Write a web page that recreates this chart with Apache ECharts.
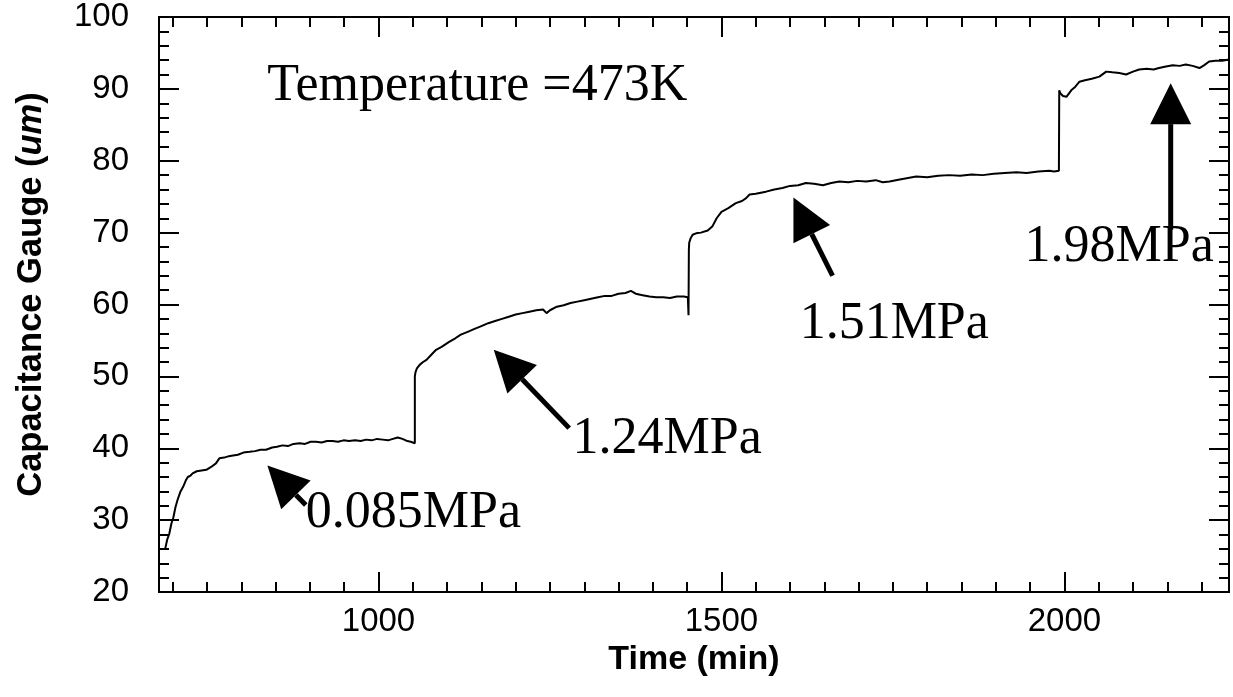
<!DOCTYPE html>
<html>
<head>
<meta charset="utf-8">
<script src="https://cdn.jsdelivr.net/npm/echarts@6/dist/echarts.min.js"></script>
<style>
  html, body { margin: 0; padding: 0; background: #fff; }
  #chart { width: 1233px; height: 697px; }
</style>
</head>
<body>
<div id="chart"></div>
<script>
// time (min)
var timeData = [
  689, 692, 695, 698, 701, 704, 707, 711, 715, 719, 722, 726, 729, 735, 742, 749, 756, 763, 768, 775,
  782, 788, 795, 803, 812, 820, 828, 836, 845, 852, 860, 868, 876, 885, 893, 901, 909, 917, 925, 933,
  941, 949, 957, 966, 974, 982, 990, 998, 1006, 1014, 1021, 1028, 1035, 1042, 1047, 1053, 1053,
  1054, 1056, 1060, 1065, 1070, 1077, 1084, 1092, 1103, 1112, 1120, 1130, 1140, 1150, 1160, 1170, 1180,
  1190, 1200, 1210, 1220, 1230, 1240, 1245, 1250, 1260, 1270, 1280, 1290, 1300, 1310, 1320, 1330, 1340,
  1350, 1360, 1368, 1375, 1385, 1395, 1405, 1415, 1425, 1435, 1445, 1451, 1452, 1452.5, 1453, 1455, 1458,
  1463, 1470, 1480, 1487, 1493, 1500, 1510, 1521, 1530, 1536, 1541, 1550, 1565, 1577, 1589, 1600, 1612,
  1623, 1635, 1648, 1660, 1672, 1685, 1698, 1711, 1725, 1735, 1745, 1760, 1772, 1784, 1800, 1816, 1832,
  1848, 1865, 1881, 1897, 1913, 1930, 1945, 1962, 1978, 1985, 1992, 1992.5,
  1994, 1998, 2003, 2010, 2016, 2022, 2030, 2040, 2051, 2061, 2070, 2080, 2090, 2100, 2109, 2120, 2130,
  2138, 2148, 2158, 2168, 2177, 2187, 2197, 2204, 2211, 2220, 2230, 2240
];
// capacitance gauge (um)
var gaugeData = [
  26.0, 27.3, 28.1, 29.5, 30.4, 31.8, 32.8, 33.9, 34.6, 35.5, 36.0, 36.2, 36.5, 36.8, 36.9, 37.0, 37.4, 37.9, 38.6, 38.7,
  38.9, 39.0, 39.1, 39.4, 39.5, 39.6, 39.8, 39.8, 40.1, 40.2, 40.4, 40.3, 40.6, 40.7, 40.6, 40.9, 40.9, 40.8, 41.0, 41.0,
  40.9, 41.1, 41.0, 41.1, 41.0, 41.2, 41.1, 41.3, 41.2, 41.1, 41.3, 41.5, 41.3, 41.0, 40.9, 40.7, 50.0,
  50.6, 51.1, 51.6, 52.0, 52.3, 53.0, 53.7, 54.1, 54.8, 55.3, 55.8, 56.2, 56.6, 57.0, 57.4, 57.7, 58.0,
  58.3, 58.6, 58.8, 59.0, 59.2, 59.3, 58.8, 59.2, 59.7, 59.9, 60.2, 60.4, 60.6, 60.8, 61.0, 61.2, 61.2,
  61.5, 61.6, 61.9, 61.5, 61.3, 61.1, 61.0, 61.0, 60.9, 61.1, 61.1, 61.0, 58.5, 67.6, 68.6, 69.2, 69.7,
  69.9, 70.0, 70.3, 70.9, 72.0, 72.9, 73.4, 74.1, 74.4, 74.8, 75.3, 75.4, 75.7, 76.0, 76.2, 76.5, 76.6,
  76.9, 76.8, 76.6, 76.9, 77.1, 77.0, 77.2, 77.1, 77.3, 77.0, 77.1, 77.4, 77.6, 77.8, 77.7, 77.9, 78.0,
  77.9, 78.1, 78.0, 78.2, 78.3, 78.4, 78.3, 78.5, 78.6, 78.5, 78.6, 89.8,
  89.4, 89.0, 88.9, 89.8, 90.3, 91.0, 91.2, 91.4, 91.7, 92.4, 92.3, 92.2, 92.0, 92.4, 92.7, 92.8, 92.7,
  92.9, 93.1, 93.3, 93.2, 93.4, 93.2, 92.9, 93.3, 93.8, 93.9, 93.9, 94.1
];

var timeMajorTicks = [1000, 1500, 2000];
var timeMinorTicks = [];
for (var t = 700; t <= 2200; t += 50) timeMinorTicks.push(t);

// arrows: tip time, tip value, tail time, tail value
var arrowData = [
  [838, 37.6, 894, 32.1],
  [1168, 53.7, 1278, 42.8],
  [1605, 74.9, 1662, 64.0],
  [2155, 90.8, 2155, 70.4]
];
// text notes: left time, middle value, text
var noteData = [
  [838, 90.3, 'Temperature =473K'],
  [894, 30.9, '0.085MPa'],
  [1283, 41.3, '1.24MPa'],
  [1614, 57.3, '1.51MPa'],
  [1942, 67.9, '1.98MPa']
];

var lineData = timeData.map(function (t, i) { return [t, gaugeData[i]]; });

var chart = echarts.init(document.getElementById('chart'));

var black = '#000';
function timeAxis(pos, ticks, len, withLabel) {
  return {
    type: 'value', position: pos, gridIndex: 0,
    min: 680, max: 2240,
    axisLine: { show: true, onZero: false, lineStyle: { color: black, width: 2 } },
    axisTick: { show: true, inside: true, length: len, customValues: ticks, lineStyle: { color: black, width: 2 } },
    axisLabel: withLabel ? {
      show: true, customValues: timeMajorTicks, color: black,
      fontFamily: 'Liberation Sans', fontSize: 33, margin: 13,
      formatter: function (v) { return String(v); }
    } : { show: false },
    splitLine: { show: false }
  };
}
function gaugeAxis(pos, withLabel) {
  return {
    type: 'value', position: pos, gridIndex: 0,
    min: 20, max: 100, interval: 10,
    axisLine: { show: true, onZero: false, lineStyle: { color: black, width: 2 } },
    axisTick: { show: true, inside: true, length: 20, lineStyle: { color: black, width: 2 } },
    minorTick: { show: true, splitNumber: 5, length: 10, lineStyle: { color: black, width: 2 } },
    axisLabel: withLabel ? {
      show: true, color: black, fontFamily: 'Liberation Sans', fontSize: 33, margin: 30
    } : { show: false },
    splitLine: { show: false }
  };
}

var xBottom = timeAxis('bottom', timeMajorTicks, 20, true);
xBottom.name = 'Time (min)';
xBottom.nameLocation = 'middle';
xBottom.nameGap = 47;
xBottom.nameTextStyle = { color: black, fontFamily: 'Liberation Sans', fontWeight: 'bold', fontSize: 34 };

var yLeft = gaugeAxis('left', true);
yLeft.name = 'Capacitance Gauge ({i|um})';
yLeft.nameLocation = 'middle';
yLeft.nameGap = 110;
yLeft.nameTextStyle = {
  color: black, fontFamily: 'Liberation Sans', fontWeight: 'bold', fontSize: 34.5,
  padding: [0, 0, 0, 20],
  rich: { i: { fontStyle: 'italic', fontWeight: 'bold', fontFamily: 'Liberation Sans', fontSize: 34.5, color: black } }
};

chart.setOption({
  animation: false,
  backgroundColor: '#fff',
  grid: { left: 159, right: 4, top: 17, bottom: 105, containLabel: false },
  xAxis: [
    xBottom,
    timeAxis('bottom', timeMinorTicks, 10, false),
    timeAxis('top', timeMajorTicks, 20, false),
    timeAxis('top', timeMinorTicks, 10, false)
  ],
  yAxis: [yLeft, gaugeAxis('right', false)],
  series: [
    {
      type: 'line', xAxisIndex: 0, yAxisIndex: 0,
      data: lineData, showSymbol: false, symbol: 'none',
      lineStyle: { color: black, width: 2 }, silent: true
    },
    {
      type: 'custom', xAxisIndex: 0, yAxisIndex: 0, silent: true,
      data: arrowData,
      renderItem: function (params, api) {
        var tip = api.coord([api.value(0), api.value(1)]);
        var tail = api.coord([api.value(2), api.value(3)]);
        var dx = tail[0] - tip[0], dy = tail[1] - tip[1];
        var d = Math.sqrt(dx * dx + dy * dy);
        var ux = dx / d, uy = dy / d;
        var headLen = 41, half = 20.5;
        var bx = tip[0] + ux * headLen, by = tip[1] + uy * headLen;
        return {
          type: 'group',
          children: [
            { type: 'line', shape: { x1: bx, y1: by, x2: tail[0], y2: tail[1] },
              style: { stroke: black, lineWidth: 5 } },
            { type: 'polygon', shape: { points: [
                [tip[0], tip[1]],
                [bx - uy * half, by + ux * half],
                [bx + uy * half, by - ux * half]
              ] }, style: { fill: black } }
          ]
        };
      }
    },
    {
      type: 'custom', xAxisIndex: 0, yAxisIndex: 0, silent: true,
      data: noteData,
      renderItem: function (params, api) {
        var p = api.coord([api.value(0), api.value(1)]);
        return {
          type: 'text', x: p[0], y: p[1],
          style: {
            text: noteData[params.dataIndex][2],
            fill: black, font: '52px "Liberation Serif"',
            textAlign: 'left', textVerticalAlign: 'middle'
          }
        };
      }
    }
  ]
});
</script>
</body>
</html>
